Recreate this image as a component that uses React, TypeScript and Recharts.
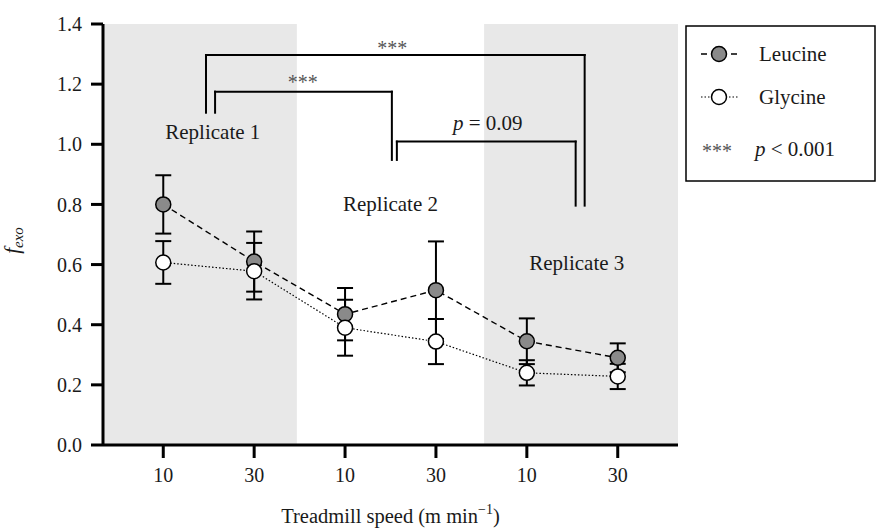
import {
  ComposedChart,
  Line,
  XAxis,
  YAxis,
  ErrorBar,
  ReferenceArea,
  ReferenceLine,
  ReferenceDot,
  Legend,
} from "recharts";

// treadmill speed per point, grouped in pairs per replicate
const speeds = ["10", "30", "10", "30", "10", "30"];
const leucine = [0.8, 0.61, 0.435, 0.515, 0.345, 0.29];
const leucineErr = [0.097, 0.1, 0.087, 0.162, 0.076, 0.048];
const glycine = [0.607, 0.578, 0.39, 0.344, 0.24, 0.228];
const glycineErr = [0.071, 0.094, 0.093, 0.075, 0.042, 0.042];
const yTicks = [0, 0.2, 0.4, 0.6, 0.8, 1.0, 1.2, 1.4];
const xTicks = [1, 2, 3, 4, 5, 6];

const X_MIN = 0.337;
const X_MAX = 6.663;

// shaded replicate backgrounds (x in category units)
const shaded = [
  { from: X_MIN, to: 2.47 },
  { from: 4.53, to: X_MAX },
];

const replicates = [
  { label: "Replicate 1", x: 1.545, y: 1.04 },
  { label: "Replicate 2", x: 3.5, y: 0.8 },
  { label: "Replicate 3", x: 5.55, y: 0.606 },
];

// significance brackets
const brackets = [
  { x1: 1.47, x2: 5.636, top: 1.297, leftEnd: 1.105, rightEnd: 0.796 },
  { x1: 1.57, x2: 3.515, top: 1.175, leftEnd: 1.105, rightEnd: 0.948 },
  { x1: 3.57, x2: 5.537, top: 1.009, leftEnd: 0.948, rightEnd: 0.796 },
];
const bracketNotes = [
  { parts: [{ t: "***" }], x: 3.52, y: 1.338, gray: true },
  { parts: [{ t: "***" }], x: 2.535, y: 1.225, gray: true },
  { parts: [{ t: "p", i: true }, { t: " = 0.09" }], x: 4.57, y: 1.07, gray: false },
];

const FONT = '"Liberation Serif", "Times New Roman", serif';
const INK = "#1a1a1a";

const data = speeds.map((s, i) => ({
  x: i + 1,
  speed: s,
  leucine: leucine[i],
  leucineErr: leucineErr[i],
  glycine: glycine[i],
  glycineErr: glycineErr[i],
}));

const noteLabel = (parts: { t: string; i?: boolean }[], gray: boolean) => (props: any) => {
  const vb = props.viewBox || {};
  const cx = (vb.x ?? 0) + (vb.width ?? 0) / 2;
  const cy = (vb.y ?? 0) + (vb.height ?? 0) / 2;
  return (
    <text
      x={cx}
      y={cy}
      dy={gray ? 12 : 7}
      textAnchor="middle"
      fontFamily={FONT}
      fontSize={gray ? 20 : 21}
      fill={gray ? "#555" : INK}
    >
      {parts.map((p, k) => (
        <tspan key={k} fontStyle={p.i ? "italic" : "normal"}>
          {p.t}
        </tspan>
      ))}
    </text>
  );
};

const YTitle = (props: any) => {
  const vb = props.viewBox || {};
  const x = 19;
  const y = (vb.y ?? 0) + (vb.height ?? 0) / 2 + 6;
  return (
    <text
      x={x}
      y={y}
      transform={`rotate(-90, ${x}, ${y})`}
      textAnchor="middle"
      fontFamily={FONT}
      fontSize={21}
      fontStyle="italic"
      fill={INK}
    >
      f
      <tspan fontSize={15} dy={4}>
        exo
      </tspan>
    </text>
  );
};

const XTitle = (props: any) => {
  const vb = props.viewBox || {};
  const x = (vb.x ?? 0) + (vb.width ?? 0) / 2;
  return (
    <text x={x} y={523} textAnchor="middle" fontFamily={FONT} fontSize={20.5} fill={INK}>
      Treadmill speed (m min
      <tspan fontSize={14} dy={-9}>
        −1
      </tspan>
      <tspan dy={9}>)</tspan>
    </text>
  );
};

const LegendBox = () => (
  <svg width={192} height={158} style={{ display: "block" }}>
    <rect x={1} y={1} width={189} height={155} fill="#fff" stroke="#000" strokeWidth={1.5} />
    <line x1={16} x2={53} y1={29} y2={29} stroke="#000" strokeWidth={1.3} strokeDasharray="6 4" />
    <circle cx={34} cy={29} r={7.5} fill="#8a8a8a" stroke="#000" strokeWidth={1.5} />
    <text x={74} y={36} fontFamily={FONT} fontSize={21} fill={INK}>
      Leucine
    </text>
    <line x1={16} x2={53} y1={72} y2={72} stroke="#000" strokeWidth={1.2} strokeDasharray="1.5 2" />
    <circle cx={34} cy={72} r={7.5} fill="#fff" stroke="#000" strokeWidth={1.5} />
    <text x={74} y={79} fontFamily={FONT} fontSize={21} fill={INK}>
      Glycine
    </text>
    <text x={17} y={133} fontFamily={FONT} fontSize={20} fill="#555">
      ***
    </text>
    <text x={70} y={131} fontFamily={FONT} fontSize={21} fill={INK}>
      <tspan fontStyle="italic">p</tspan> &lt; 0.001
    </text>
  </svg>
);

export default function App() {
  return (
    <div style={{ position: "absolute", left: 0, top: 0 }}>
      <ComposedChart
        width={877}
        height={530}
        data={data}
        margin={{ top: 24, right: 199, left: 0, bottom: 25 }}
      >
        {shaded.map((b, i) => (
          <ReferenceArea
            key={`band-${i}`}
            x1={b.from}
            x2={b.to}
            y1={0}
            y2={1.4}
            fill="#e8e8e8"
            fillOpacity={1}
            stroke="none"
            ifOverflow="visible"
          />
        ))}
        <XAxis
          type="number"
          dataKey="x"
          domain={[X_MIN, X_MAX]}
          ticks={xTicks}
          allowDataOverflow
          tickFormatter={(v) => speeds[v - 1]}
          height={60}
          axisLine={{ stroke: "#000", strokeWidth: 3 }}
          tickLine={{ stroke: "#000", strokeWidth: 3 }}
          tickSize={13}
          tickMargin={10}
          tick={{ fill: INK, fontSize: 20, fontFamily: FONT }}
          label={{ content: XTitle }}
        />
        <YAxis
          type="number"
          domain={[0, 1.4]}
          ticks={yTicks}
          width={103}
          tickFormatter={(v) => v.toFixed(1)}
          axisLine={{ stroke: "#000", strokeWidth: 3 }}
          tickLine={{ stroke: "#000", strokeWidth: 3 }}
          tickSize={12}
          tickMargin={9}
          tick={{ fill: INK, fontSize: 20, fontFamily: FONT }}
          label={{ content: YTitle }}
        />
        {brackets.map((b, i) => [
          <ReferenceLine
            key={`bl-${i}`}
            segment={[
              { x: b.x1, y: b.leftEnd },
              { x: b.x1, y: b.top },
            ]}
            stroke="#000"
            strokeWidth={2}
            strokeLinecap="square"
            ifOverflow="visible"
          />,
          <ReferenceLine
            key={`bt-${i}`}
            segment={[
              { x: b.x1, y: b.top },
              { x: b.x2, y: b.top },
            ]}
            stroke="#000"
            strokeWidth={2}
            strokeLinecap="square"
            ifOverflow="visible"
          />,
          <ReferenceLine
            key={`br-${i}`}
            segment={[
              { x: b.x2, y: b.top },
              { x: b.x2, y: b.rightEnd },
            ]}
            stroke="#000"
            strokeWidth={2}
            strokeLinecap="square"
            ifOverflow="visible"
          />,
        ])}
        {bracketNotes.map((n, i) => (
          <ReferenceDot
            key={`note-${i}`}
            x={n.x}
            y={n.y}
            r={0}
            fill="none"
            stroke="none"
            ifOverflow="visible"
            label={{ content: noteLabel(n.parts, n.gray) }}
          />
        ))}
        {replicates.map((r, i) => (
          <ReferenceDot
            key={`rep-${i}`}
            x={r.x}
            y={r.y}
            r={0}
            fill="none"
            stroke="none"
            ifOverflow="visible"
            label={{ content: noteLabel([{ t: r.label }], false) }}
          />
        ))}
        <Line
          dataKey="leucine"
          stroke="#000"
          strokeWidth={1.4}
          strokeDasharray="6 4"
          dot={{ r: 7.5, fill: "#8a8a8a", stroke: "#000", strokeWidth: 1.5, strokeDasharray: "0" }}
          activeDot={false}
          isAnimationActive={false}
        >
          <ErrorBar dataKey="leucineErr" direction="y" width={8} stroke="#000" strokeWidth={2} isAnimationActive={false} />
        </Line>
        <Line
          dataKey="glycine"
          stroke="#000"
          strokeWidth={1.2}
          strokeDasharray="1.5 2"
          dot={{ r: 7.5, fill: "#fff", stroke: "#000", strokeWidth: 1.5, strokeDasharray: "0" }}
          activeDot={false}
          isAnimationActive={false}
        >
          <ErrorBar dataKey="glycineErr" direction="y" width={8} stroke="#000" strokeWidth={2} isAnimationActive={false} />
        </Line>
        <Legend
          layout="horizontal"
          verticalAlign="middle"
          align="center"
          wrapperStyle={{ left: 685, top: 25, width: 192, height: 158 }}
          content={() => <LegendBox />}
        />
      </ComposedChart>
    </div>
  );
}
